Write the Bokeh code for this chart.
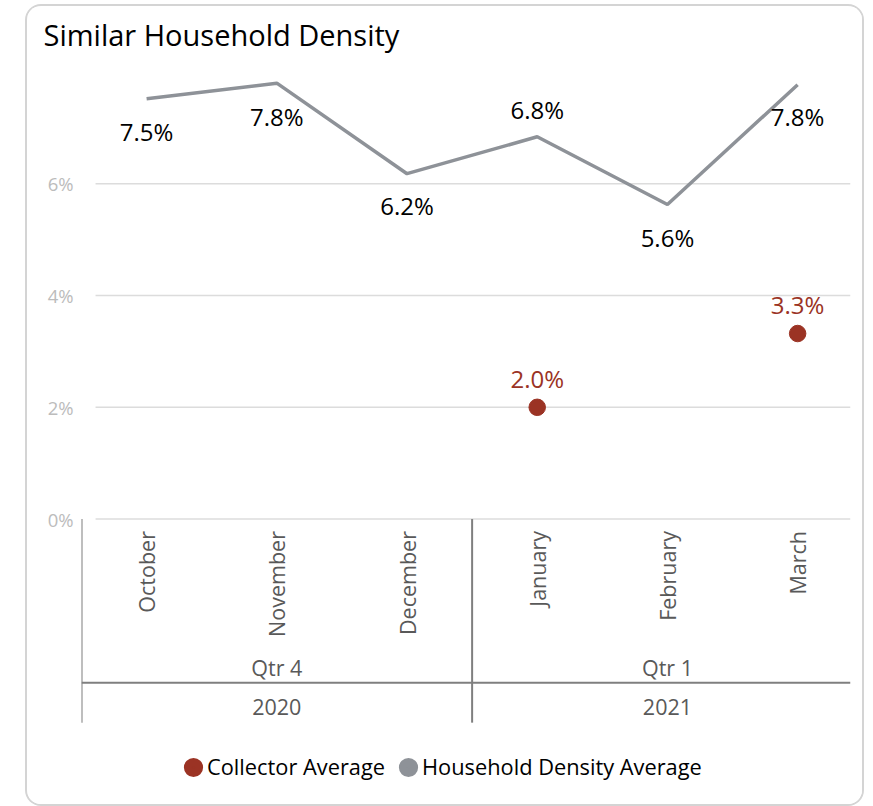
import math
from bokeh.plotting import figure
from bokeh.models import Range1d, FixedTicker, NumeralTickFormatter, Legend, LegendItem
from bokeh.core.properties import value
from bokeh.embed import file_html
from bokeh.resources import INLINE

# ---------------- data ----------------
months = ["October", "November", "December", "January", "February", "March"]
quarters = ["Qtr 4", "Qtr 4", "Qtr 4", "Qtr 1", "Qtr 1", "Qtr 1"]
years = ["2020", "2020", "2020", "2021", "2021", "2021"]
household_density_avg = [0.0752, 0.0780, 0.0618, 0.0684, 0.0563, 0.0777]
collector_avg = [None, None, None, 0.0200, None, 0.0332]
y_ticks = [0.0, 0.02, 0.04, 0.06]

# ---------------- style ----------------
FONT = "Open Sans"
RED = "#9B3324"
GREY_LINE = "#8E9298"
AXIS_TEXT = "#595959"
SEP_COLOR = "#7F7F7F"
GRID_COLOR = "#DCDCDC"

PX_PER_UNIT = 5600.0          # pixels per 100 %
FRAME_BELOW_ZERO = 282        # frame extends this many px under the 0 % line
FRAME_H = 741.5
Y_BOTTOM = -FRAME_BELOW_ZERO / PX_PER_UNIT
Y_TOP = Y_BOTTOM + FRAME_H / PX_PER_UNIT


def below(px):
    """value that lies px pixels under the 0 % line"""
    return -px / PX_PER_UNIT


xs = list(range(len(months)))
X_START = -0.5
X_END = 5.406
GRID_START = -0.392

p = figure(width=835, height=798, output_backend="svg", toolbar_location=None,
           x_range=Range1d(X_START, X_END), y_range=Range1d(Y_BOTTOM, Y_TOP),
           x_axis_location=None, min_border_left=54, min_border_right=12,
           min_border_top=0, min_border_bottom=4)
p.margin = (6, 0, 0, 27)
p.styles = {"border-radius": "14px", "box-shadow": "0 0 0 2px #d4d4d4", "overflow": "hidden"}
p.outline_line_color = None
p.background_fill_color = "white"
p.border_fill_color = "white"

# title
p.title.text = "Similar Household Density"
p.title.text_font = FONT
p.title.text_font_size = "29px"
p.title.text_font_style = "normal"
p.title.text_color = "#000000"
p.title.offset = -38
p.title.standoff = 13

# y axis
p.yaxis.ticker = FixedTicker(ticks=y_ticks)
p.yaxis.formatter = NumeralTickFormatter(format="0%")
p.yaxis.axis_line_color = None
p.yaxis.major_tick_line_color = None
p.yaxis.minor_tick_line_color = None
p.yaxis.major_tick_out = 0
p.yaxis.major_tick_in = 0
p.yaxis.minor_tick_out = 0
p.yaxis.major_label_text_font = FONT
p.yaxis.major_label_text_font_size = "18.5px"
p.yaxis.major_label_text_color = "#BCBCBC"
p.yaxis.major_label_standoff = 8
p.xgrid.visible = False
p.ygrid.visible = False

# horizontal gridlines at the value ticks
p.segment(x0=[GRID_START] * len(y_ticks), y0=y_ticks, x1=[X_END] * len(y_ticks), y1=y_ticks,
          line_color=GRID_COLOR, line_width=1.5)

# ---------------- series ----------------
p.line(xs, household_density_avg, line_color=GREY_LINE, line_width=3.5)

col_y = [float("nan") if v is None else v for v in collector_avg]
p.scatter(xs, col_y, size=16.5, fill_color=RED, line_color=RED)

# legend swatches (bigger round swatch through a thick outline)
nan = float("nan")
leg_col = p.scatter([nan], [nan], size=0, fill_color=RED, line_color=RED, line_width=8)
leg_hh = p.scatter([nan], [nan], size=0, fill_color=GREY_LINE, line_color=GREY_LINE, line_width=8)

# data labels
hh_offsets = [33, 33, 32, -27, 33, 32]
p.text(xs, household_density_avg,
       text=["{:.1f}%".format(v * 100) for v in household_density_avg],
       y_offset=hh_offsets, text_align="center", text_baseline="middle",
       text_font=value(FONT), text_font_size="24px", text_color="#000000")

cx = [x for x, v in zip(xs, collector_avg) if v is not None]
cy = [v for v in collector_avg if v is not None]
p.text(cx, cy, text=["{:.1f}%".format(v * 100) for v in cy],
       y_offset=[-29] * len(cy), text_align="center", text_baseline="middle",
       text_font=value(FONT), text_font_size="24px", text_color=RED)

# ---------------- multi-level category axis ----------------
p.text(xs, [below(12)] * len(xs), text=months, angle=math.pi / 2,
       text_align="right", text_baseline="middle",
       text_font=value(FONT), text_font_size="21.5px", text_color=AXIS_TEXT)

groups = []
for i, (y, q) in enumerate(zip(years, quarters)):
    if not groups or groups[-1][0] != (y, q):
        groups.append([(y, q), i, i])
    else:
        groups[-1][2] = i
g_centers = [(g[1] + g[2]) / 2 for g in groups]
p.text(g_centers, [below(149)] * len(groups), text=[g[0][1] for g in groups],
       text_align="center", text_baseline="middle",
       text_font=value(FONT), text_font_size="21.5px", text_color=AXIS_TEXT)
p.text(g_centers, [below(188)] * len(groups), text=[g[0][0] for g in groups],
       text_align="center", text_baseline="middle",
       text_font=value(FONT), text_font_size="21.5px", text_color=AXIS_TEXT)

sep_x = [g[1] - 0.5 for g in groups]
p.segment(x0=sep_x, y0=[0] * len(sep_x), x1=sep_x, y1=[below(204)] * len(sep_x),
          line_color=SEP_COLOR, line_width=2)
p.segment(x0=[X_START], y0=[below(164)], x1=[X_END], y1=[below(164)],
          line_color=SEP_COLOR, line_width=2)

# ---------------- legend ----------------
legend = Legend(items=[LegendItem(label="Collector Average", renderers=[leg_col]),
                       LegendItem(label="Household Density Average", renderers=[leg_hh])],
                orientation="horizontal", location=(98, 19),
                glyph_width=28, glyph_height=28, label_standoff=0, spacing=9,
                padding=0, margin=0, label_text_font=FONT, label_text_font_size="21.8px",
                label_text_color="#000000", border_line_alpha=0, background_fill_alpha=0)
p.add_layout(legend)

open("out.html", "w").write(file_html(p, INLINE))
